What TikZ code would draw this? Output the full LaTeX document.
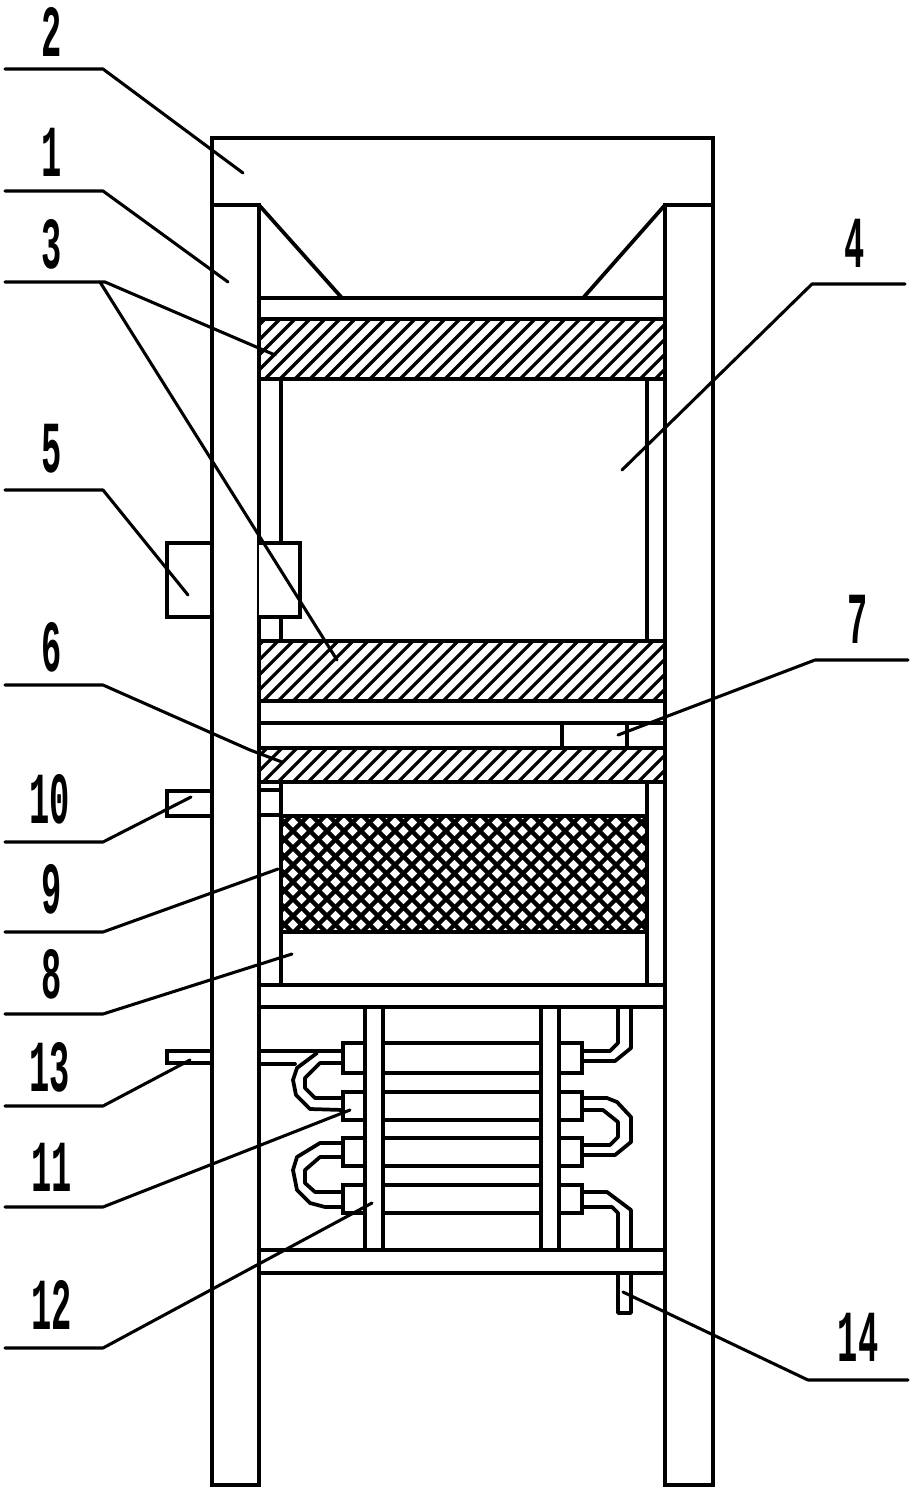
\documentclass[tikz,border=0pt]{standalone}
\usepackage{fontspec}
\setmainfont{Liberation Mono}
\newcommand{\digits}[1]{\scalebox{0.46}[1]{\fontsize{55}{55}\selectfont\bfseries #1}}
\tikzset{
  part/.style={line width=3.2pt,line join=miter,draw=black},
  pipe/.style={line width=2.8pt,line join=round,line cap=round,draw=black},
  hatchline/.style={line width=2.4pt,draw=black},
  meshline/.style={line width=3.2pt,draw=black},
  leader/.style={line width=2.3pt,line join=round,line cap=round,draw=black},
  numlabel/.style={inner sep=0pt,outer sep=0pt,text=black}
}
\begin{document}
\begin{tikzpicture}[x=0.75pt,y=-0.75pt]
\useasboundingbox (0,0) rectangle (916,1493);
\fill[white] (0,0) rectangle (916,1493);

% hatched bands
\begin{scope}
  \clip (259,319) rectangle (665,379);
  \foreach \i in {-6,...,32} \draw[hatchline] ({259+15*\i},385) -- ({259+15*\i+75},310);
\end{scope}
\begin{scope}
  \clip (259,641) rectangle (665,701);
  \foreach \i in {-6,...,32} \draw[hatchline] ({257+15*\i},707) -- ({257+15*\i+75},632);
\end{scope}
\begin{scope}
  \clip (259,748) rectangle (665,782);
  \foreach \i in {-4,...,30} \draw[hatchline] ({255+15*\i},790) -- ({255+15*\i+50},740);
\end{scope}
% mesh
\begin{scope}
  \clip (281,816) rectangle (647,932);
  \foreach \i in {0,...,32} {
    \draw[meshline] ({150+17*\i},940) -- ({150+17*\i+130},810);
    \draw[meshline] ({136+17*\i},810) -- ({136+17*\i+130},940);
  }
\end{scope}

% frame
\draw[part] (212,205) -- (212,138) -- (713,138) -- (713,205);
\draw[part] (212,205) rectangle (259,1485);
\draw[part] (665,205) rectangle (713,1485);
% hopper
\draw[pipe] (259,205) -- (342,298);
\draw[pipe] (665,205) -- (583,298);
% horizontal plates
\foreach \y in {298,319,379,641,701,723,748,782,985,1007,1250,1273}
  \draw[part] (259,\y) -- (665,\y);
% inner uprights
\draw[part] (281,379) -- (281,641);
\draw[part] (647,379) -- (647,641);
\draw[part] (281,782) -- (281,985);
\draw[part] (647,782) -- (647,985);
\draw[part] (281,816) -- (647,816);
\draw[part] (281,932) -- (647,932);
% motor 7
\draw[part] (562,723) -- (562,748);
\draw[part] (627,723) -- (627,748);
% box 5
\draw[part] (212,543) -- (167,543) -- (167,617) -- (212,617);
\draw[part,fill=white] (259,543) -- (300,543) -- (300,617) -- (259,617);
% box 10
\draw[part] (212,791) -- (167,791) -- (167,816) -- (212,816);
\draw[part] (259,790) -- (281,790);
\draw[part] (259,815) -- (281,815);
% pipe 13
\draw[part] (212,1051) -- (167,1051) -- (167,1063) -- (212,1063);
\draw[pipe] (259,1051) -- (343,1051);
\draw[pipe] (259,1064) -- (295,1064);

% heat exchanger
\foreach \x in {365,383,541,559} \draw[part] (\x,1007) -- (\x,1250);
\foreach \a/\b in {1043/1073,1092/1120,1138/1166,1185/1213} {
  \draw[part] (365,\a) -- (343,\a) -- (343,\b) -- (365,\b);
  \draw[part] (559,\a) -- (582,\a) -- (582,\b) -- (559,\b);
  \draw[pipe] (383,\a) -- (541,\a);
  \draw[pipe] (383,\b) -- (541,\b);
}
% left U-bends
\draw[pipe] (317,1053) -- (297,1068) -- (293,1080) -- (296,1095) -- (310,1109) -- (343,1110);
\draw[pipe] (343,1063) -- (320,1063) -- (305,1078) -- (305,1088) -- (315,1098) -- (343,1098);
\draw[pipe] (342,1143) -- (320,1143) -- (297,1157) -- (293,1170) -- (297,1190) -- (310,1203) -- (325,1207) -- (343,1207);
\draw[pipe] (342,1157) -- (320,1157) -- (305,1170) -- (305,1183) -- (315,1192) -- (342,1192);
% right pipes
\draw[pipe] (618,1007) -- (618,1043) -- (610,1051) -- (582,1051);
\draw[pipe] (631,1007) -- (631,1048) -- (615,1061) -- (582,1061);
\draw[pipe] (582,1098) -- (607,1098) -- (617,1102) -- (631,1117) -- (631,1142) -- (615,1155) -- (582,1155);
\draw[pipe] (582,1110) -- (603,1110) -- (618,1122) -- (618,1137) -- (610,1145) -- (582,1145);
\draw[pipe] (582,1192) -- (607,1192) -- (631,1210) -- (631,1250);
\draw[pipe] (582,1207) -- (612,1207) -- (618,1213) -- (618,1250);
% stub 14
\draw[pipe] (618,1273) -- (618,1313) -- (631,1313) -- (631,1273);

% labels and leaders
\foreach \n/\lx/\ly/\sx/\kx/\yy/\ex/\ey in {
  2/52/32/5/103/69/243/173,
  1/52/152/5/103/191/228/282,
  3/52/244/5/105/282/275/355,
  4/855/243/905/812/284/622/470,
  5/52/449/5/103/490/188/595,
  7/858/619/908/815/660/618/735,
  10/50/799/5/103/842/191/797,
  9/52/889/5/103/932/278/869,
  8/52/974/5/103/1014/292/954,
  13/50/1067/5/103/1106/190/1060,
  11/52/1167/5/103/1207/350/1110,
  12/52/1305/5/103/1348/372/1203,
  14/858/1337/908/808/1380/623/1292}
{
  \node[numlabel] (lab\n) at (\lx,\ly) {\digits{\n}};
  \coordinate (s\n) at (\sx,\yy);
  \coordinate (k\n) at (\kx,\yy);
  \coordinate (e\n) at (\ex,\ey);
  \draw[leader] (s\n) -- (k\n) -- (e\n);
}
\node[numlabel] (lab6) at (52,647) {\digits{6}};
\coordinate (s6) at (5,685);
\coordinate (k6) at (103,685);
\coordinate (m6) at (250,750);
\coordinate (e6) at (282,762);
\draw[leader] (s6) -- (k6) -- (m6) -- (e6);
\coordinate (k3b) at (100,282);
\coordinate (e3b) at (337,660);
\draw[leader] (k3b) -- (e3b);
\end{tikzpicture}
\end{document}
